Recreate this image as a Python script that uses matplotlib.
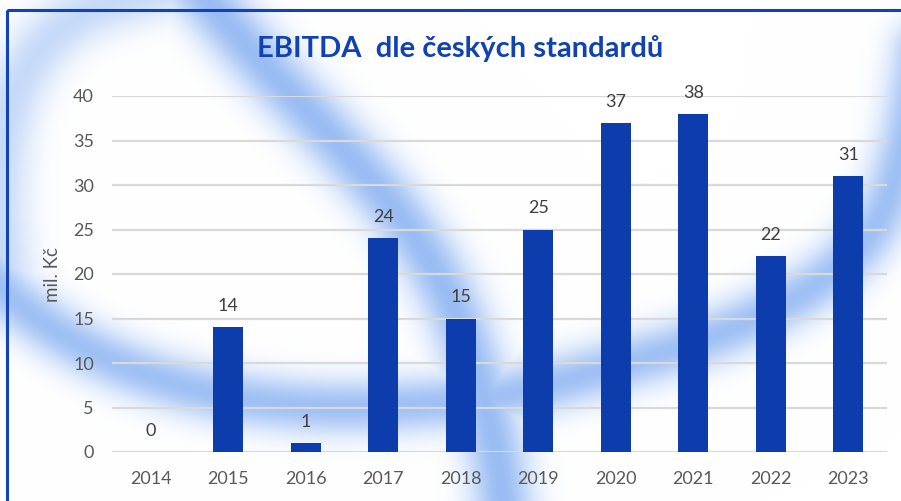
import numpy as np
import matplotlib
matplotlib.use("Agg")
import matplotlib.pyplot as plt
from matplotlib.patches import Rectangle

plt.rcParams['font.family'] = ['Lato', 'DejaVu Sans']

# Data
years = ["2014", "2015", "2016", "2017", "2018", "2019", "2020", "2021", "2022", "2023"]
ebitda = [0, 14, 1, 24, 15, 25, 37, 38, 22, 31]
y_ticks = [0, 5, 10, 15, 20, 25, 30, 35, 40]

title = "EBITDA  dle českých standardů"
y_label = "mil. Kč"

W, H = 901, 501
bar_color = "#0d3cad"
title_color = "#1142b4"
text_grey = "#595959"
grid_grey = "#d9d9d9"


def catmull_rom(pts, n=60):
    # smooth curve through the control points
    pts = np.asarray(pts, dtype=float)
    pts = np.vstack([pts[0], pts, pts[-1]])
    out = []
    for i in range(1, len(pts) - 2):
        p0, p1, p2, p3 = pts[i - 1], pts[i], pts[i + 1], pts[i + 2]
        t = np.linspace(0, 1, n)[:, None]
        out.append(0.5 * ((2 * p1) + (-p0 + p2) * t
                          + (2 * p0 - 5 * p1 + 4 * p2 - p3) * t ** 2
                          + (-p0 + 3 * p1 - 3 * p2 + p3) * t ** 3))
    return np.vstack(out)


def stroke_alpha(pts, sigma, gain):
    yy, xx = np.mgrid[0:H, 0:W].astype(float)
    d2 = np.full((H, W), 1e12)
    for px, py in catmull_rom(pts):
        d2 = np.minimum(d2, (xx - px) ** 2 + (yy - py) ** 2)
    return gain * np.exp(-d2 / (2 * sigma ** 2))


# Background swooshes (pixel coords, y down)
diag = [(190, -20), (255, 55), (325, 130), (395, 210), (445, 290),
        (475, 370), (495, 450), (505, 520)]
curve = [(-30, 250), (20, 305), (100, 355), (200, 390), (300, 405),
         (400, 405), (500, 395), (600, 370), (700, 340), (780, 305),
         (840, 265), (880, 215), (905, 140), (920, 50)]
corner = [(5, 290), (-2, 180), (20, 80), (80, 15), (190, -20)]

alpha = np.maximum.reduce([
    stroke_alpha(diag, 22, 0.9),
    stroke_alpha(curve, 20, 0.85),
    stroke_alpha(corner, 22, 0.5),
])
core = np.array([0.56, 0.71, 0.95])
bg = 1 - alpha[..., None] * (1 - core)

fig = plt.figure(figsize=(W / 100, H / 100), dpi=100)
bg_ax = fig.add_axes([0, 0, 1, 1], zorder=0)
bg_ax.imshow(bg, extent=[0, W, H, 0], aspect='auto', interpolation='bilinear')
bg_ax.set_xlim(0, W)
bg_ax.set_ylim(H, 0)
bg_ax.axis('off')

# Chart frame (only top and left visible)
bg_ax.add_patch(Rectangle((7, 10), 1000, 600, fill=False,
                          edgecolor="#1143b8", linewidth=2.2))

ax = fig.add_axes([112 / W, 49 / H, 775 / W, 356 / H], zorder=1)
ax.patch.set_alpha(0)

x = np.arange(len(years))
bars = ax.bar(x, ebitda, width=0.39, color=bar_color, zorder=3)

for xi, v in zip(x, ebitda):
    ax.annotate(str(v), (xi, v), xytext=(0, 9.5), textcoords='offset points',
                ha='center', va='bottom', fontsize=13, color="#404040")

ax.set_xlim(-0.5, len(years) - 0.5)
ax.set_ylim(0, 40)
ax.set_yticks(y_ticks)
ax.set_xticks(x)
ax.set_xticklabels(years)
ax.tick_params(axis='both', length=0, labelsize=13, labelcolor=text_grey)
ax.tick_params(axis='x', pad=14)
ax.tick_params(axis='y', pad=13)
ax.yaxis.grid(True, color=grid_grey, linewidth=1.6, zorder=0)
ax.set_axisbelow(True)
for s in ax.spines.values():
    s.set_visible(False)

fig.text(53 / W, 1 - 275 / H, y_label, rotation=90, ha='center', va='center',
         fontsize=13.5, color=text_grey)
fig.text(460 / W, 1 - 48 / H, title, ha='center', va='center',
         fontsize=21, fontweight='bold', color=title_color)

fig.savefig("out.png", dpi=100)
